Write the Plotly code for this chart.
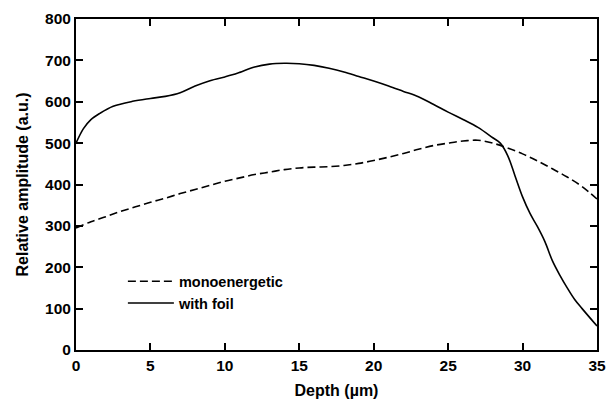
import plotly.graph_objects as go

depth_foil = [0, 0.5, 1, 1.6, 2.5, 3.8, 5, 6, 7, 8, 9, 10, 10.5, 11, 12, 13, 14, 15, 16, 17, 18,
              19, 20, 21, 22, 23, 24, 25, 26, 27, 28, 28.5, 29, 29.5, 30, 30.5, 31, 31.5, 32,
              32.5, 33, 33.5, 34, 35]
amp_foil = [500, 535, 557, 572, 589, 601, 608, 613, 622, 638, 651, 660, 665, 671, 684, 691, 693,
            692, 688, 681, 672, 661, 650, 638, 625, 612, 594, 575, 557, 538, 513, 500, 470, 420,
            370, 330, 298, 262, 216, 181, 150, 122, 100, 58]

depth_mono = list(range(0, 36))
amp_mono = [295, 310, 322, 335, 346, 357, 367, 378, 388, 398, 408, 416, 424, 430, 436, 440, 442,
            443, 446, 451, 458, 466, 475, 485, 494, 500, 505, 507, 500, 488, 474, 457, 438, 418,
            395, 365]

x_ticks = [0, 5, 10, 15, 20, 25, 30, 35]
y_ticks = [0, 100, 200, 300, 400, 500, 600, 700, 800]

FONT = "Liberation Sans, Arial, Helvetica, sans-serif"

fig = go.Figure()
fig.add_trace(go.Scatter(x=depth_mono, y=amp_mono, mode="lines", name="monoenergetic",
                         line=dict(color="black", width=1.6, dash="8px,4px", shape="spline")))
fig.add_trace(go.Scatter(x=depth_foil, y=amp_foil, mode="lines", name="with foil",
                         line=dict(color="black", width=1.6, shape="spline")))

axis_common = dict(showline=True, linecolor="black", linewidth=2, mirror="ticks",
                   ticks="inside", ticklen=7, tickwidth=1.5, tickcolor="black",
                   showgrid=False, zeroline=False, automargin=False,
                   tickfont=dict(family=FONT, size=15.5, color="black", weight="bold"))

fig.update_xaxes(range=[0, 35], tickvals=x_ticks, ticktext=[str(v) for v in x_ticks],
                 title=dict(text="Depth (µm)", standoff=16,
                            font=dict(family=FONT, size=16, color="black", weight="bold")),
                 **axis_common)
fig.update_yaxes(range=[0, 800], tickvals=y_ticks, ticktext=[str(v) for v in y_ticks],
                 title=dict(text="Relative amplitude (a.u.)", standoff=12,
                            font=dict(family=FONT, size=16, color="black", weight="bold")),
                 **axis_common)

fig.update_layout(
    width=608, height=399,
    margin=dict(l=76, r=11, t=19, b=49),
    paper_bgcolor="white", plot_bgcolor="white",
    showlegend=True,
    legend=dict(x=0.09, y=0.256, xanchor="left", yanchor="top", itemwidth=46,
                bgcolor="rgba(0,0,0,0)", borderwidth=0, tracegroupgap=0,
                font=dict(family=FONT, size=14.5, color="black", weight="bold")),
)

fig.write_html("out.html")
